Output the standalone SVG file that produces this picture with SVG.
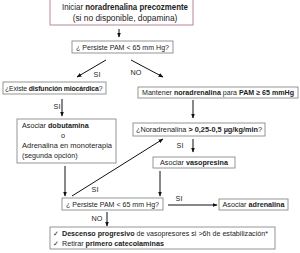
<svg xmlns="http://www.w3.org/2000/svg" width="300" height="253" viewBox="0 0 300 253">
<defs>
<marker id="ah" viewBox="0 0 10 10" refX="9" refY="5" markerWidth="5" markerHeight="5" orient="auto" markerUnits="userSpaceOnUse">
<path d="M0,1 L10,5 L0,9 z" fill="#111"/>
</marker>
<style>
text{font-family:"Liberation Sans",Arial,sans-serif;font-size:7.2px;fill:#222}
.b{font-weight:bold}
.box{fill:#fff;stroke:#8a8a8a;stroke-width:0.9}
.pink{fill:#fff;stroke:#c49aae;stroke-width:1.2}
.c{stroke:#111;stroke-width:1;fill:none;marker-end:url(#ah)}
.m{text-anchor:middle}
</style>
</defs>
<rect width="300" height="253" fill="#fff"/>
<g id="connectors">
<line class="c" x1="119" y1="29" x2="119" y2="37"/>
<line class="c" x1="106" y1="60" x2="77" y2="77"/>
<line class="c" x1="131" y1="60" x2="163" y2="77"/>
<line class="c" x1="62" y1="99" x2="62" y2="116"/>
<line class="c" x1="193" y1="100" x2="193" y2="118"/>
<line class="c" x1="193" y1="139" x2="193" y2="152"/>
<line class="c" x1="72" y1="196" x2="163" y2="139"/>
<line class="c" x1="65" y1="166" x2="65" y2="196"/>
<line class="c" x1="160" y1="171" x2="160" y2="196"/>
<line class="c" x1="168" y1="205" x2="217" y2="205"/>
<line class="c" x1="107" y1="212" x2="107" y2="226"/>
<text x="97" y="77" class="m">SI</text>
<text x="136" y="75" class="m">NO</text>
<text x="57" y="109" class="m">SI</text>
<text x="180" y="148" class="m">SI</text>
<text x="95" y="192" class="m">SI</text>
<text x="179" y="201" class="m">SI</text>
<text x="97" y="221" class="m">NO</text>
</g>
<g id="start">
<rect class="pink" x="50" y="-1" width="143" height="26"/>
<text x="125" y="10" class="m" style="font-size:8.4px" textLength="126" lengthAdjust="spacingAndGlyphs">Iniciar <tspan class="b">noradrenalina precozmente</tspan></text>
<text x="125" y="21" class="m" style="font-size:8.4px">(si no disponible, dopamina)</text>
</g>
<g id="q1">
<rect class="box" x="72" y="41" width="101" height="12"/>
<text x="122.5" y="49.5" class="m" textLength="93" lengthAdjust="spacingAndGlyphs">¿ Persiste PAM &lt; 65 mm Hg?</text>
</g>
<g id="q2">
<rect class="box" x="3" y="82" width="103" height="12"/>
<text x="5" y="90.5" style="font-size:6.9px;letter-spacing:-0.15px">¿Existe <tspan class="b">disfunción miocárdica</tspan>?</text>
</g>
<g id="maintain">
<rect class="box" x="138" y="87" width="160" height="11"/>
<text x="142" y="95" textLength="152" lengthAdjust="spacingAndGlyphs">Mantener <tspan class="b">noradrenalina</tspan> para <tspan class="b">PAM ≥ 65 mmHg</tspan></text>
</g>
<g id="dobutamina">
<rect class="box" x="17" y="119" width="99" height="44"/>
<text x="22" y="128">Asociar <tspan class="b">dobutamina</tspan></text>
<text x="63" y="138" class="m">o</text>
<text x="22" y="148" textLength="90" lengthAdjust="spacingAndGlyphs">Adrenalina en monoterapia</text>
<text x="22" y="158">(segunda opción)</text>
</g>
<g id="q3">
<rect class="box" x="133" y="123" width="132" height="13"/>
<text x="136" y="132" textLength="126" lengthAdjust="spacingAndGlyphs">¿Noradrenalina <tspan class="b">&gt; 0,25-0,5 µg/kg/min</tspan>?</text>
</g>
<g id="vasopresina">
<rect class="box" x="153" y="157" width="82" height="11"/>
<text x="194" y="165" class="m">Asociar <tspan class="b">vasopresina</tspan></text>
</g>
<g id="q4">
<rect class="box" x="62" y="198" width="101" height="12"/>
<text x="112.5" y="206.5" class="m" textLength="93" lengthAdjust="spacingAndGlyphs">¿ Persiste PAM &lt; 65 mm Hg?</text>
</g>
<g id="adrenalina">
<rect class="box" x="219" y="199" width="69" height="11"/>
<text x="253.5" y="207" class="m">Asociar <tspan class="b">adrenalina</tspan></text>
</g>
<g id="final">
<rect class="box" x="50" y="227" width="225" height="22"/>
<text x="53" y="236">✓</text>
<text x="62" y="236" textLength="206" lengthAdjust="spacingAndGlyphs"><tspan class="b">Descenso progresivo</tspan> de vasopresores si &gt;6h de estabilización*</text>
<text x="53" y="246">✓</text>
<text x="62" y="246">Retirar <tspan class="b">primero catecolaminas</tspan></text>
</g>
</svg>
